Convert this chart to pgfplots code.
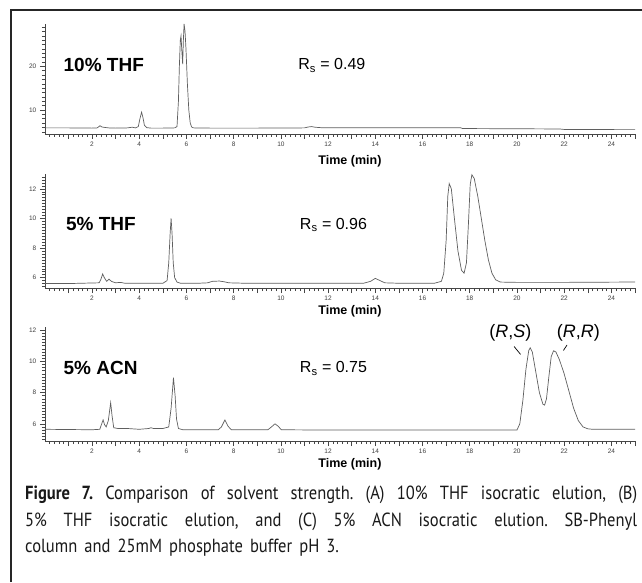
\documentclass[border=0pt]{standalone}
\usepackage{fontspec}
\setmainfont{Liberation Sans}
\newfontfamily\capfont[FakeStretch=0.87, WordSpace=1.6]{PT Sans}
\usepackage{pgfplots}
\pgfplotsset{compat=1.18}
\definecolor{sig}{RGB}{95,95,95}
\definecolor{axc}{RGB}{70,70,70}
\pgfplotsset{
  chrom/.style={
    scale only axis, width=590.2pt,
    axis lines=left, axis line style={axc, line width=0.6pt, -},
    xmin=0, xmax=25,
    xtick={2,4,...,24},
    extra x ticks={1,3,...,25}, extra x tick labels={},
    minor xtick={0.2,0.4,...,24.8},
    tick align=outside,
    major tick length=5pt, minor tick length=3pt,
    every tick/.style={axc, line width=0.5pt},
    tick label style={font=\fontsize{6.5}{6.5}\selectfont, text=black!75},
    /pgf/number format/assume math mode=true,
    xticklabel style={yshift=1pt},
    clip=false,
  }
}
\begin{document}
\begin{tikzpicture}[x=1pt,y=1pt]
\useasboundingbox (0,0) rectangle (642,582);
\fill[white] (0,0) rectangle (642,582);
\draw[black!85, line width=1.4pt] (11,0) -- (11,572) -- (642,572);

% Panel A
\begin{axis}[chrom, at={(44.8pt,448pt)}, anchor=south west, height=110pt,
  ymin=4.5, ymax=29.7, ytick={10,20}, minor ytick={5,6,...,29}]
\addplot[sig, line width=0.7pt] coordinates {
(0,5.9) (1,5.9) (2,5.85) (2.22,5.9) (2.34,6.4) (2.42,6.1) (2.55,6.0) (2.7,5.9) (3,5.85) (3.5,5.9) (3.7,6.05) (3.85,5.9) (3.96,6.2) (4.03,8) (4.1,9.5) (4.16,8.2) (4.22,6.5) (4.32,5.95) (4.5,5.85) (5,5.85) (5.5,5.9) (5.6,6.2) (5.66,12) (5.7,20) (5.74,26) (5.77,27) (5.8,24) (5.84,20.5) (5.87,26) (5.9,29.7) (5.94,28) (5.98,24) (6.04,16) (6.1,10) (6.16,7) (6.22,6.1) (6.3,5.9) (7,5.85) (9,5.85) (11,5.9) (11.15,6.1) (11.3,6.2) (11.45,6.05) (11.7,5.95) (14,5.95) (16,5.95) (17.6,5.95) (17.7,5.75) (20,5.7) (21.8,5.65) (22,5.55) (24.5,5.5) (25,5.5)
};
\node[font=\fontsize{19}{19}\selectfont\bfseries, anchor=west] at (axis cs:0.65,20.4) {10\% THF};
\node[font=\fontsize{16}{16}\selectfont, anchor=west, inner sep=0pt] at (axis cs:10.73,20.2) {R\textsubscript{s} = 0.49};
\node[font=\fontsize{12.5}{12.5}\selectfont\bfseries] at (rel axis cs:0.517,0) [yshift=-27pt] {Time (min)};
\end{axis}

% Panel B
\begin{axis}[chrom, at={(44.8pt,294pt)}, anchor=south west, height=114pt,
  ymin=5.3, ymax=13.0, ytick={6,8,10,12}, minor ytick={5.4,5.6,...,12.8}]
\addplot[sig, line width=0.7pt] coordinates {
(0,5.6) (1,5.6) (2.3,5.65) (2.38,5.9) (2.45,6.25) (2.52,6.0) (2.62,5.75) (2.72,5.9) (2.82,5.75) (3,5.65) (3.2,5.68) (3.4,5.62) (4,5.62) (5.0,5.62) (5.18,5.8) (5.25,7) (5.31,9) (5.35,10.0) (5.39,9) (5.44,7) (5.5,6) (5.6,5.7) (5.75,5.62) (6.5,5.62) (6.9,5.65) (7.1,5.75) (7.4,5.77) (7.6,5.72) (7.8,5.65) (8.5,5.62) (13.5,5.62) (13.8,5.75) (14.0,5.95) (14.2,5.8) (14.4,5.65) (15,5.62) (16.5,5.62) (16.8,5.75) (16.9,6.3) (17.0,8.5) (17.07,11.5) (17.13,12.35) (17.22,12) (17.35,10) (17.5,7.8) (17.65,6.5) (17.76,6.3) (17.86,7.0) (17.94,9.5) (18.02,12.3) (18.09,12.95) (18.19,12.7) (18.34,11.5) (18.49,10) (18.64,8.5) (18.79,7.2) (18.94,6.3) (19.1,5.85) (19.3,5.7) (20,5.68) (22,5.68) (24.5,5.7) (25,5.7)
};
\node[font=\fontsize{19}{19}\selectfont\bfseries, anchor=west] at (axis cs:0.75,9.6) {5\% THF};
\node[font=\fontsize{16}{16}\selectfont, anchor=west, inner sep=0pt] at (axis cs:10.8,9.55) {R\textsubscript{s} = 0.96};
\node[font=\fontsize{12.5}{12.5}\selectfont\bfseries] at (rel axis cs:0.517,0) [yshift=-23pt] {Time (min)};
\end{axis}

% Panel C
\begin{axis}[chrom, at={(44.8pt,141pt)}, anchor=south west, height=114pt,
  ymin=4.9, ymax=12.2, ytick={6,8,10,12}, minor ytick={5.0,5.2,...,12.0}]
\addplot[sig, line width=0.7pt] coordinates {
(0,5.65) (2,5.62) (2.33,5.65) (2.41,6.0) (2.47,6.25) (2.53,5.95) (2.6,5.8) (2.69,6.2) (2.79,7.35) (2.85,6.5) (2.92,5.75) (3.1,5.7) (3.5,5.7) (4,5.65) (4.4,5.7) (4.5,5.75) (4.6,5.7) (5,5.7) (5.25,5.8) (5.35,7) (5.45,8.95) (5.52,7.8) (5.58,6.3) (5.66,5.7) (5.85,5.62) (7.35,5.62) (7.48,5.8) (7.63,6.25) (7.76,5.85) (7.9,5.62) (9.45,5.62) (9.6,5.8) (9.75,6.0) (9.88,5.85) (10.02,5.62) (12,5.6) (20.0,5.6) (20.12,6.0) (20.25,7.5) (20.38,9.5) (20.5,10.7) (20.56,10.87) (20.65,10.6) (20.8,9.3) (20.95,8.0) (21.1,7.25) (21.17,7.2) (21.25,7.6) (21.35,9.0) (21.45,10.3) (21.55,10.68) (21.65,10.6) (21.8,10.1) (22.0,9.2) (22.2,8.1) (22.4,7.0) (22.6,6.2) (22.8,5.8) (23.0,5.68) (23.2,5.65) (25,5.65)
};
\node[font=\fontsize{19}{19}\selectfont\bfseries, anchor=west] at (axis cs:0.65,9.6) {5\% ACN};
\node[font=\fontsize{16}{16}\selectfont, anchor=west, inner sep=0pt] at (axis cs:10.8,9.55) {R\textsubscript{s} = 0.75};
\node[font=\fontsize{12.5}{12.5}\selectfont\bfseries] at (rel axis cs:0.517,0) [yshift=-23pt] {Time (min)};
\node[font=\fontsize{18}{18}\selectfont] at (axis cs:19.72,11.8) {(\textit{R},\textit{S})};
\node[font=\fontsize{18}{18}\selectfont] at (axis cs:22.6,11.8) {(\textit{R},\textit{R})};
\draw[black, line width=0.7pt] (axis cs:19.88,10.95) -- (axis cs:20.15,10.45);
\draw[black, line width=0.7pt] (axis cs:22.12,11.05) -- (axis cs:21.97,10.7);
\end{axis}

% Caption
\node[anchor=north west, inner sep=0pt, text width=612pt, align=justify,
  font=\capfont\fontsize{19}{26.5}\selectfont\frenchspacing, text=black!90]
  at (25,96) {\textbf{Figure 7.} Comparison of solvent strength. (A) 10\% THF isocratic elution, (B)\linebreak
  5\% THF isocratic elution, and (C) 5\% ACN isocratic elution. SB-Phenyl\linebreak
  column and 25mM phosphate buffer pH 3.};
\end{tikzpicture}
\end{document}
